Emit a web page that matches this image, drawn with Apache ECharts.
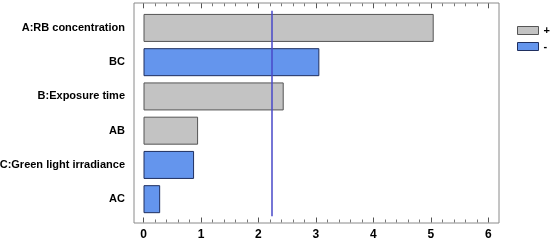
<!DOCTYPE html>
<html>
<head>
<meta charset="utf-8">
<script src="https://cdn.jsdelivr.net/npm/echarts@6/dist/echarts.min.js"></script>
<style>
html,body{margin:0;padding:0;background:#fff;}
#chart{width:550px;height:243px;}
</style>
</head>
<body>
<div id="chart"></div>
<script>
// effects, top to bottom
var factors = ['A:RB concentration', 'BC', 'B:Exposure time', 'AB', 'C:Green light irradiance', 'AC'];
var positiveVals = [5.05, '-', 2.44, 0.95, '-', '-'];
var negativeVals = ['-', 3.06, '-', '-', 0.88, 0.29];
var refValue = 2.23;
var xTicks = [0, 1, 2, 3, 4, 5, 6];

var font = 'Liberation Sans, Arial, sans-serif';

var option = {
	animation: false,
	backgroundColor: '#fff',
	grid: [
		// outer frame
		{ left: 134, right: 51, top: 3, bottom: 20, show: true, borderColor: '#8a8a8a', borderWidth: 1, outerBoundsMode: 'none', containLabel: false },
		// bars
		{ left: 143.5, right: 61.7, top: 10.8, bottom: 26.7, outerBoundsMode: 'none', containLabel: false }
	],
	legend: {
		orient: 'vertical',
		left: 512,
		top: 20,
		icon: 'rect',
		itemWidth: 21,
		itemHeight: 8,
		itemGap: 5,
		itemStyle: { borderWidth: 1 },
		textStyle: { fontFamily: font, fontWeight: 'bold', fontSize: 11, color: '#000' },
		data: ['+', '-']
	},
	xAxis: [
		{ gridIndex: 0, type: 'value', show: false, min: 0, max: 1 },
		{
			gridIndex: 1, type: 'value', position: 'bottom', offset: 6.2,
			min: xTicks[0], max: xTicks[xTicks.length - 1], interval: 1,
			axisLine: { show: false },
			axisTick: { show: true, inside: true, length: 5, lineStyle: { color: '#555' } },
			minorTick: { show: true, splitNumber: 5, length: 3, lineStyle: { color: '#777' } },
			splitLine: { show: false },
			axisLabel: { margin: 6, fontFamily: font, fontWeight: 'bold', fontSize: 12, color: '#000' }
		},
		{
			gridIndex: 1, type: 'value', position: 'top', offset: 7.5,
			min: xTicks[0], max: xTicks[xTicks.length - 1], interval: 1,
			axisLine: { show: false },
			axisTick: { show: true, inside: true, length: 5, lineStyle: { color: '#555' } },
			minorTick: { show: true, splitNumber: 5, length: 3, lineStyle: { color: '#777' } },
			splitLine: { show: false },
			axisLabel: { show: false }
		}
	],
	yAxis: [
		{ gridIndex: 0, type: 'value', show: false, min: 0, max: 1 },
		{
			gridIndex: 1, type: 'category', inverse: true,
			data: factors,
			axisLine: { show: false },
			axisTick: { show: false },
			axisLabel: { margin: 18.5, fontFamily: font, fontWeight: 'bold', fontSize: 11, color: '#000' }
		}
	],
	series: [
		{
			name: '+', type: 'bar', stack: 'eff', xAxisIndex: 1, yAxisIndex: 1,
			barWidth: 28,
			data: positiveVals,
			itemStyle: { color: '#c3c3c3', borderColor: '#555', borderWidth: 1 },
			markLine: {
				silent: true, symbol: 'none',
				label: { show: false },
				lineStyle: { color: '#4848c8', width: 1.5, type: 'solid' },
				data: [{ xAxis: refValue }]
			}
		},
		{
			name: '-', type: 'bar', stack: 'eff', xAxisIndex: 1, yAxisIndex: 1,
			barWidth: 28,
			data: negativeVals,
			itemStyle: { color: '#6495ed', borderColor: '#1f2f5f', borderWidth: 1 }
		}
	]
};

var myChart = echarts.init(document.getElementById('chart'));
myChart.setOption(option);
</script>
</body>
</html>
